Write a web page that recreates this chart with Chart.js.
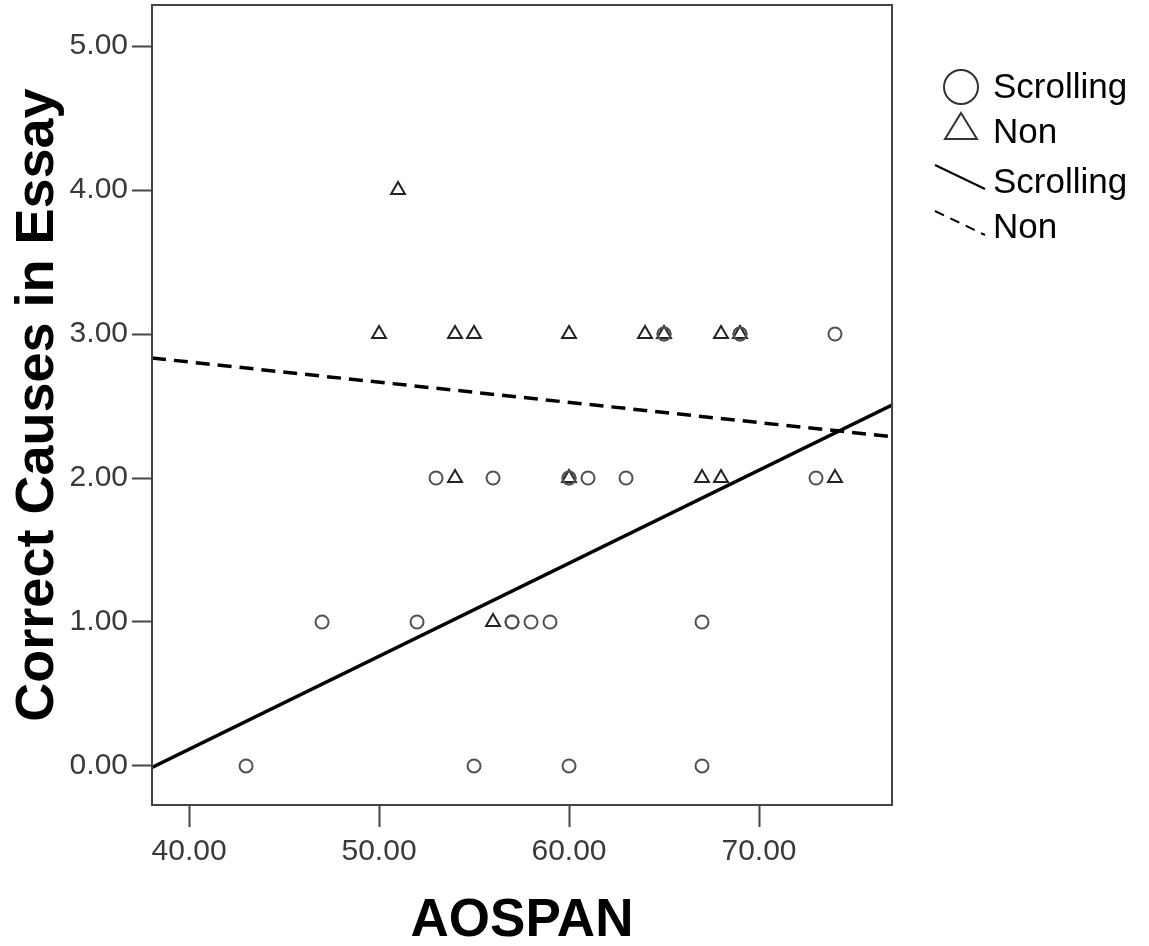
<!DOCTYPE html>
<html>
<head>
<meta charset="utf-8">
<script src="https://cdn.jsdelivr.net/npm/chart.js@4"></script>
<style>
  html, body { margin: 0; padding: 0; background: #fff; }
  #wrap { width: 1149px; height: 946px; }
</style>
</head>
<body>
<div id="wrap"><canvas id="myChart" width="1149" height="946"></canvas></div>
<script>
const ctx = document.getElementById('myChart');

// AOSPAN / correct causes
const scrollX = [43, 55, 60, 67, 47, 52, 57, 57, 58, 59, 67, 53, 56, 60, 60, 61, 63, 73, 65, 65, 69, 69, 74];
const scrollY = [0, 0, 0, 0, 1, 1, 1, 1, 1, 1, 1, 2, 2, 2, 2, 2, 2, 2, 3, 3, 3, 3, 3];
const nonX = [51, 50, 54, 55, 60, 64, 65, 68, 69, 54, 60, 67, 68, 74, 56];
const nonY = [4, 3, 3, 3, 3, 3, 3, 3, 3, 2, 2, 2, 2, 2, 1];

// fit line end points
const fitX = [38.05, 77.0];
const fitScroll = [-0.01, 2.507];
const fitNon = [2.833, 2.287];

const xTicks = [40, 50, 60, 70];
const yTicks = [0, 1, 2, 3, 4, 5];

const font = '"Liberation Sans", Arial, sans-serif';
const axisColor = '#444';

const toPoints = (xs, ys) => xs.map((x, i) => ({ x: x, y: ys[i] }));

// box round the plot + legend on the right
const framePlugin = {
  id: 'frame',
  afterDraw(chart) {
    const c = chart.ctx;
    const a = chart.chartArea;
    c.save();
    c.strokeStyle = axisColor;
    c.lineWidth = 2;
    c.strokeRect(a.left, a.top, a.right - a.left, a.bottom - a.top);

    // legend
    c.fillStyle = '#000';
    c.font = '35px ' + font;
    c.textBaseline = 'middle';
    const tx = 993;
    const rows = [88, 133, 183, 228];
    const labels = ['Scrolling', 'Non', 'Scrolling', 'Non'];
    labels.forEach((t, i) => c.fillText(t, tx, rows[i]));

    c.strokeStyle = '#333';
    c.lineWidth = 2;
    c.beginPath();
    c.arc(961, 87, 17, 0, Math.PI * 2);
    c.stroke();

    c.beginPath();
    c.moveTo(961, 113);
    c.lineTo(977, 139);
    c.lineTo(945, 139);
    c.closePath();
    c.stroke();

    c.strokeStyle = '#000';
    c.lineWidth = 2;
    c.beginPath();
    c.moveTo(935, 165);
    c.lineTo(985, 189);
    c.stroke();

    c.setLineDash([10, 7]);
    c.beginPath();
    c.moveTo(935, 211);
    c.lineTo(985, 235);
    c.stroke();
    c.restore();
  }
};

myChart = new Chart(ctx, {
  type: 'scatter',
  data: {
    datasets: [
      {
        label: 'Scrolling fit',
        type: 'line',
        data: toPoints(fitX, fitScroll),
        borderColor: '#000',
        borderWidth: 3.5,
        pointRadius: 0,
        fill: false,
      },
      {
        label: 'Non fit',
        type: 'line',
        data: toPoints(fitX, fitNon),
        borderColor: '#000',
        borderWidth: 3.5,
        borderDash: [14, 8],
        pointRadius: 0,
        fill: false,
      },
      {
        label: 'Scrolling',
        data: toPoints(scrollX, scrollY),
        pointStyle: 'circle',
        pointRadius: 6.5,
        borderWidth: 2,
        borderColor: '#505050',
        backgroundColor: 'rgba(0,0,0,0)',
      },
      {
        label: 'Non',
        data: toPoints(nonX, nonY),
        pointStyle: 'triangle',
        pointRadius: 8,
        borderWidth: 2,
        borderColor: '#222',
        backgroundColor: 'rgba(0,0,0,0)',
      },
    ],
  },
  options: {
    responsive: false,
    animation: false,
    layout: {
      autoPadding: false,
      padding: { top: 5, right: 257, left: 0, bottom: 0 },
    },
    scales: {
      x: {
        type: 'linear',
        min: 38.05,
        max: 77.0,
        afterBuildTicks: (scale) => {
          scale.ticks = xTicks.map((v) => ({ value: v }));
        },
        afterFit: (scale) => {
          scale.height = 141;
          scale.paddingLeft = 0;
          scale.paddingRight = 0;
        },
        grid: {
          drawOnChartArea: false,
          drawTicks: true,
          tickLength: 22,
          tickWidth: 2,
          color: axisColor,
        },
        border: { display: false },
        ticks: {
          color: '#3a3a3a',
          font: { family: font, size: 30 },
          padding: 7,
          maxRotation: 0,
          callback: (v) => Number(v).toFixed(2),
        },
        title: {
          display: true,
          text: 'AOSPAN',
          color: '#000',
          font: { family: font, size: 53, weight: 'bold' },
          padding: { top: 0, bottom: -7 },
        },
      },
      y: {
        type: 'linear',
        min: -0.271,
        max: 5.285,
        afterBuildTicks: (scale) => {
          scale.ticks = yTicks.map((v) => ({ value: v }));
        },
        afterFit: (scale) => {
          scale.width = 152;
          scale.paddingTop = 0;
          scale.paddingBottom = 0;
        },
        grid: {
          drawOnChartArea: false,
          drawTicks: true,
          tickLength: 20,
          tickWidth: 2,
          color: axisColor,
        },
        border: { display: false },
        ticks: {
          color: '#3a3a3a',
          font: { family: font, size: 30 },
          padding: 4,
          callback: (v) => Number(v).toFixed(2),
        },
        title: {
          display: true,
          text: 'Correct Causes in Essay',
          color: '#000',
          font: { family: font, size: 54, weight: 'bold' },
          padding: { top: 6, bottom: 0 },
        },
      },
    },
    plugins: {
      legend: { display: false },
      tooltip: { enabled: false },
    },
  },
  plugins: [framePlugin],
});
</script>
</body>
</html>
